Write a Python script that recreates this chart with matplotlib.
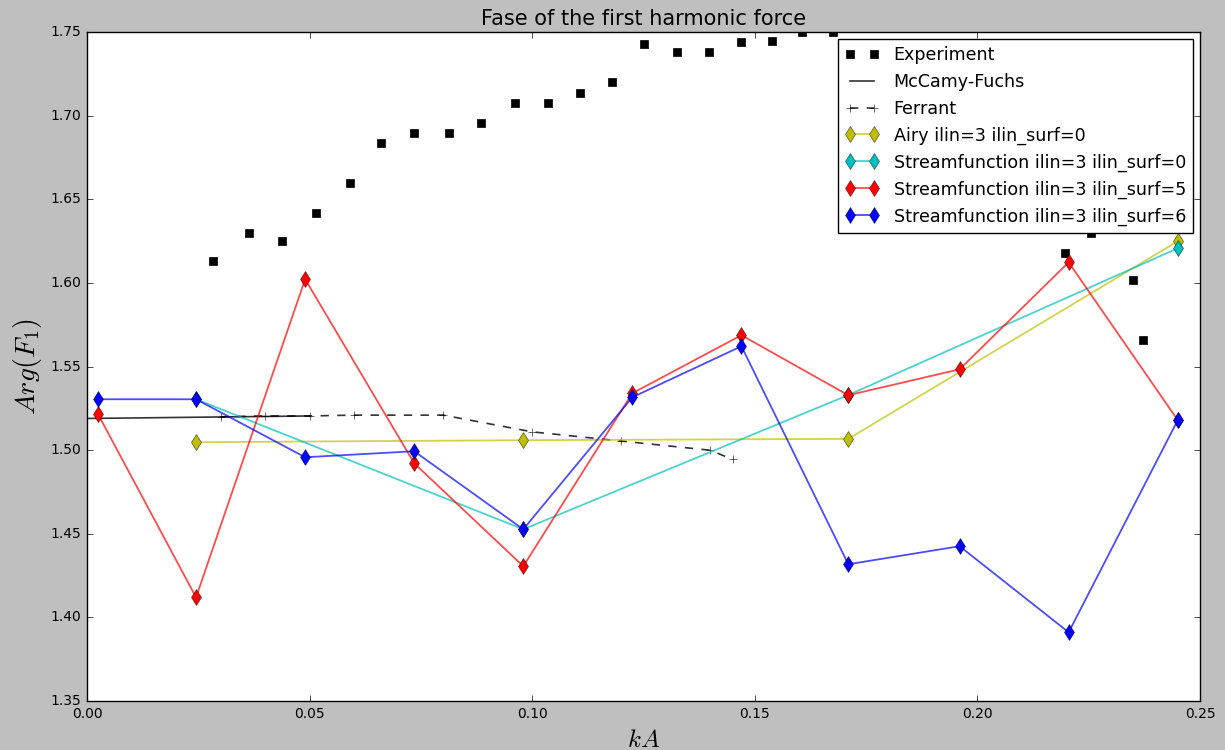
import numpy as np
import matplotlib
matplotlib.use('Agg')
import matplotlib.pyplot as plt

plt.style.use('classic')

# measured phase
kA_exp = [0.0283, 0.0364, 0.0438, 0.0514, 0.0591, 0.0660, 0.0735, 0.0813, 0.0885,
          0.0961, 0.1036, 0.1107, 0.1179, 0.1251, 0.1325, 0.1397, 0.1469, 0.1539,
          0.1606, 0.1676, 0.2197, 0.2255, 0.2350, 0.2372]
arg_exp = [1.613, 1.630, 1.625, 1.642, 1.660, 1.684, 1.690, 1.690, 1.696,
           1.7075, 1.7075, 1.7135, 1.7205, 1.743, 1.738, 1.738, 1.744, 1.745,
           1.750, 1.750, 1.618, 1.630, 1.602, 1.566]

# linear theory and second-order theory
kA_mcf = [0.0, 0.05]
arg_mcf = [1.519, 1.5205]
kA_fer = [0.030, 0.040, 0.050, 0.060, 0.080, 0.100, 0.120, 0.140, 0.145]
arg_fer = [1.520, 1.5205, 1.5205, 1.521, 1.521, 1.511, 1.5055, 1.500, 1.4945]

# simulations
kA_sim = [0.0025, 0.0245, 0.049, 0.0735, 0.098, 0.1225, 0.147, 0.171, 0.196, 0.2205, 0.245]
kA_coarse = [0.0245, 0.098, 0.171, 0.245]
arg_airy0 = [1.5048, 1.506, 1.5068, 1.625]
arg_sf0 = [1.5305, 1.4527, 1.533, 1.6208]
arg_sf5 = [1.5215, 1.412, 1.6023, 1.4922, 1.4306, 1.5341, 1.5688, 1.5329, 1.5484, 1.6124, 1.518]
arg_sf6 = [1.5305, 1.5305, 1.4958, 1.4994, 1.4527, 1.5317, 1.5622, 1.4318, 1.4426, 1.3911, 1.518]

fig = plt.figure(figsize=(12.25, 7.5), dpi=100)
ax = fig.add_axes([0.071, 0.0653, 0.9086, 0.8917])

ax.plot(kA_exp, arg_exp, 'ks', markersize=6, label='Experiment')
ax.plot(kA_mcf, arg_mcf, 'k-', alpha=0.8, lw=1.2, label='McCamy-Fuchs')
ax.plot(kA_fer, arg_fer, 'k--+', alpha=0.8, lw=1.2, label='Ferrant')

sims = [(kA_coarse, arg_airy0, (0.75, 0.75, 0), 'Airy ilin=3 ilin_surf=0'),
        (kA_coarse, arg_sf0, (0, 0.75, 0.75), 'Streamfunction ilin=3 ilin_surf=0'),
        (kA_sim, arg_sf5, (1, 0, 0), 'Streamfunction ilin=3 ilin_surf=5'),
        (kA_sim, arg_sf6, (0, 0, 1), 'Streamfunction ilin=3 ilin_surf=6')]
for xs, ys, c, lab in sims:
    ax.plot(xs, ys, '-d', color=c + (0.7,), lw=1.3, markersize=8,
            markerfacecolor=c, markeredgecolor=(0, 0, 0, 0.6), label=lab)

ax.set_xlim(0.0, 0.25)
ax.set_ylim(1.35, 1.75)
ax.set_xticks(np.arange(0, 0.251, 0.05))
ax.set_yticks(np.arange(1.35, 1.751, 0.05))
ax.tick_params(labelsize=10)
ax.set_title('Fase of the first harmonic force', fontsize=15)
ax.set_xlabel('$kA$', fontsize=18)
ax.set_ylabel('$Arg(F_1)$', fontsize=20)
ax.legend(loc='upper right', fontsize=12.6, framealpha=1, borderaxespad=0.4)

fig.savefig('out.png', dpi=100, facecolor=fig.get_facecolor())
